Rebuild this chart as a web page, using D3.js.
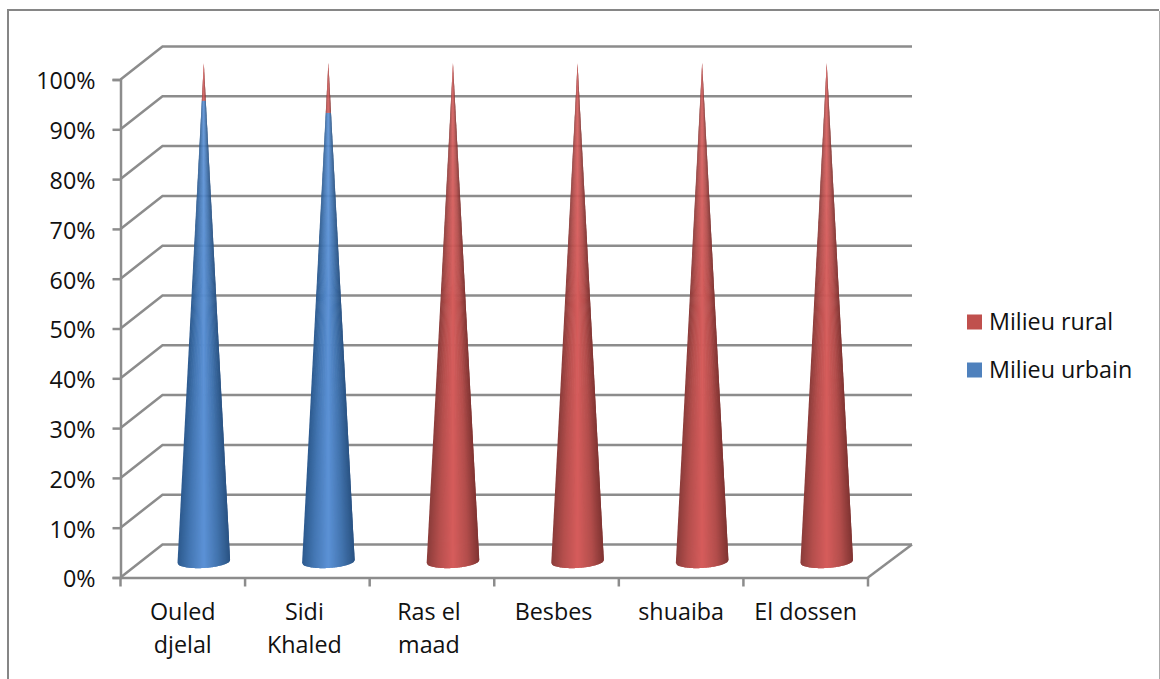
<!DOCTYPE html>
<html>
<head>
<meta charset="utf-8">
<script src="https://cdn.jsdelivr.net/npm/d3@7"></script>
<style>
  html, body { margin: 0; padding: 0; background: #fff; }
  text { font-family: "Open Sans", sans-serif; font-size: 23.3px; fill: #111; }
</style>
</head>
<body>
<svg id="chart" width="1160" height="679"></svg>
<script>
// values, in percent
const categories = ["Ouled djelal", "Sidi Khaled", "Ras el maad", "Besbes", "shuaiba", "El dossen"];
const categoryLines = [["Ouled", "djelal"], ["Sidi", "Khaled"], ["Ras el", "maad"], ["Besbes"], ["shuaiba"], ["El dossen"]];
const urbain = [92.4, 90, 0, 0, 0, 0];
const rural = [7.6, 10, 100, 100, 100, 100];
const yTicks = [0, 10, 20, 30, 40, 50, 60, 70, 80, 90, 100];
const legendNames = ["Milieu rural", "Milieu urbain"];

const gridColor = "#8c8c8c";
const soften = "blur(0.45px)";
const depthX = 42, depthY = -33;

const svg = d3.select("#chart");

svg.append("path")
  .attr("d", "M8,679V10H1159")
  .attr("fill", "none")
  .attr("stroke", "#868686")
  .attr("stroke-width", 2);
svg.append("path")
  .attr("d", "M1159.5,11V679")
  .attr("fill", "none")
  .attr("stroke", "#aaa")
  .attr("stroke-width", 1);

const x = d3.scaleBand().domain(categories).range([120.5, 868]);
const y = d3.scaleLinear().domain([0, 100]).range([577.5, 79.5]);

// back wall + floor
const wall = svg.append("g")
  .attr("fill", "none")
  .attr("stroke", gridColor)
  .attr("stroke-width", 2.5)
  .style("filter", soften);
yTicks.forEach((t) => {
  wall.append("path").attr("d", d3.line()([
    [x.range()[0], y(t)],
    [x.range()[0] + depthX, y(t) + depthY],
    [x.range()[1] + depthX + 2, y(t) + depthY],
  ]));
});
wall.append("path").attr("d", d3.line()([
  [x.range()[1], y(0)],
  [x.range()[1] + depthX + 2, y(0) + depthY],
]));

// axes
const yAxis = d3.axisLeft(y).tickValues(yTicks).tickSize(8).tickPadding(17).tickFormat((d) => d + "%");
const yG = svg.append("g").attr("transform", `translate(${x.range()[0]},0)`).call(yAxis);

const bottomG = svg.append("g").attr("transform", `translate(0,${y(0)})`);
const xAxis = d3.axisBottom(x).tickSize(0).tickPadding(0).tickFormat(() => "");
bottomG.call(xAxis);
bottomG.selectAll(".boundary")
  .data(d3.range(categories.length + 1))
  .join("line")
  .attr("class", "boundary")
  .attr("x1", (i) => x.range()[0] + i * x.step())
  .attr("x2", (i) => x.range()[0] + i * x.step())
  .attr("y1", 0)
  .attr("y2", 9)
  .attr("stroke", gridColor)
  .attr("stroke-width", 2.5)
  .style("filter", soften);

[yG, bottomG].forEach((g) => {
  g.selectAll(".domain").attr("stroke", gridColor).attr("stroke-width", 2.5).style("filter", soften);
  g.selectAll(".tick line").attr("stroke", gridColor).attr("stroke-width", 2.5).style("filter", soften);
  g.selectAll("text")
    .style("font-family", '"Open Sans", sans-serif')
    .style("font-size", "23.3px")
    .attr("fill", "#111")
    .attr("dy", "0.4em");
});

// category labels, the middle ones sit a bit left of their band in the original
const labelNudge = [0, -3, -3, -3, 0, 0];
categories.forEach((c, i) => {
  const lx = x(c) + x.bandwidth() / 2 + labelNudge[i];
  const label = svg.append("text")
    .attr("text-anchor", "middle")
    .attr("x", lx)
    .attr("y", 620);
  categoryLines[i].forEach((line, j) => {
    label.append("tspan")
      .attr("x", lx)
      .attr("y", 620 + j * 33)
      .text(line);
  });
});

// cones: a fan of slices from the tip, so the shading narrows with the cone
const redShade = d3.scaleLinear()
  .domain([-1, -0.55, 0, 0.55, 1])
  .range(["#8b3c3a", "#b54f4d", "#d65d5c", "#b34e4c", "#803432"]);
const blueShade = d3.scaleLinear()
  .domain([-1, -0.55, 0, 0.55, 1])
  .range(["#2d5a8e", "#4477b3", "#5c92d6", "#4273ad", "#2a5383"]);

const coneHalf = 26.3;
const sliceStep = 0.04;
const slices = d3.range(-1, 1, sliceStep);
const coneY = (v) => y(v) + depthY / 2;
// bottom rim of the base, slightly tilted ellipse
const rimDrop = (t) => 0.5 - 1.5 * t + 6.5 * Math.sqrt(Math.max(0, 1 - t * t));

function coneSegment(cx, from, to, t) {
  // one slice plus a little overlap under the next, between two levels
  const width = (v) => coneHalf * (1 - v / 100);
  const a = t, b = Math.min(t + 2 * sliceStep, 1);
  const lower = [a, (a + b) / 2, b].map((s) => [cx + width(from) * s, coneY(from) + (from === 0 ? rimDrop(s) : 0)]);
  const upper = [b, a].map((s) => [cx + width(to) * s, coneY(to)]);
  return d3.line()(lower.concat(upper)) + "Z";
}

const cones = svg.append("g").style("filter", "blur(0.3px)");
categories.forEach((c, i) => {
  const cx = x(c) + x.bandwidth() / 2 + depthX / 2;
  const parts = [
    { from: 0, to: urbain[i], shade: blueShade },
    { from: urbain[i], to: urbain[i] + rural[i], shade: redShade },
  ].filter((p) => p.to > p.from);
  parts.forEach((p) => {
    cones.append("g").selectAll("path")
      .data(slices)
      .join("path")
      .attr("d", (t) => coneSegment(cx, p.from, p.to, t))
      .attr("fill", (t) => p.shade(t + sliceStep / 2));
  });
});

// legend
const legendColors = ["#c0504d", "#4f81bd"];
const legendY = d3.scalePoint().domain(legendNames).range([322, 370]);
legendNames.forEach((name, i) => {
  svg.append("rect")
    .attr("x", 967)
    .attr("y", legendY(name) - 7.5)
    .attr("width", 15)
    .attr("height", 15)
    .attr("fill", legendColors[i]);
  svg.append("text")
    .attr("x", 989)
    .attr("y", legendY(name) + 8)
    .text(name);
});
</script>
</body>
</html>
